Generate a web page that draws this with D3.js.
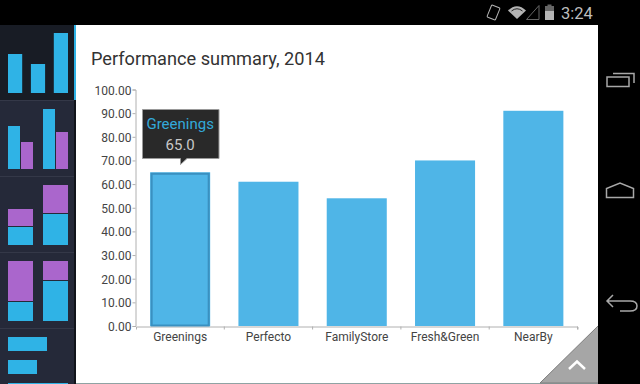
<!DOCTYPE html>
<html>
<head>
<meta charset="utf-8">
<script src="https://cdn.jsdelivr.net/npm/d3@7"></script>
<style>
html, body { margin: 0; padding: 0; background: #000; overflow: hidden; }
svg { display: block; font-family: Roboto, sans-serif; }
</style>
</head>
<body>
<svg id="chart" width="640" height="384"></svg>
<script>
var categories = ["Greenings", "Perfecto", "FamilyStore", "Fresh&Green", "NearBy"];
var values = [65, 61, 54, 70, 91];
var yTicks = [0, 10, 20, 30, 40, 50, 60, 70, 80, 90, 100];
var titleText = "Performance summary, 2014";
var clockText = "3:24";

// sidebar thumbnails, values in thumbnail units
var thumbBars = [39, 29, 60];
var thumbGroupBlue = [43, 60];
var thumbGroupPurple = [27, 37];
var thumbStack1Blue = [18, 31];
var thumbStack1Purple = [17, 28];
var thumbStack2Blue = [19, 40];
var thumbStack2Purple = [40, 19];
var thumbHoriz = [39, 29, 60];

var blue = "#4fb5e7", thumbBlue = "#2fb3e6", purple = "#aa66cc";
var svg = d3.select("#chart");

// panel
svg.append("rect").attr("x", 0).attr("y", 0).attr("width", 640).attr("height", 384).attr("fill", "#000");
svg.append("rect").attr("x", 76).attr("y", 25).attr("width", 522).attr("height", 358).attr("fill", "#fff");
svg.append("rect").attr("x", 76).attr("y", 383).attr("width", 522).attr("height", 1).attr("fill", "#8fa3a3");

// sidebar
svg.append("rect").attr("x", 0).attr("y", 25).attr("width", 75).attr("height", 359).attr("fill", "#252939");
svg.append("rect").attr("x", 0).attr("y", 25).attr("width", 74).attr("height", 75).attr("fill", "#181c25");
svg.append("rect").attr("x", 74).attr("y", 100).attr("width", 2).attr("height", 284).attr("fill", "#11141b");
svg.append("rect").attr("x", 74).attr("y", 25).attr("width", 2).attr("height", 75).attr("fill", thumbBlue);
[100, 176, 252, 328].forEach(function (y) {
    svg.append("rect").attr("x", 0).attr("y", y).attr("width", 74).attr("height", 1).attr("fill", "#343848");
});

// one unit = one pixel in the thumbnails
var thumbH = d3.scaleLinear().domain([0, 100]).range([0, 100]);
var side = svg.append("g");

function thumbRect(x, bottom, w, v, color) {
    side.append("rect").attr("x", x).attr("y", bottom - thumbH(v)).attr("width", w).attr("height", thumbH(v)).attr("fill", color);
}

var x1 = d3.scaleBand().domain(d3.range(3)).range([8, 68]).paddingInner(0.38);
thumbBars.forEach(function (v, i) { thumbRect(x1(i), 93, x1.bandwidth(), v, thumbBlue); });

var x2 = [8, 43];
thumbGroupBlue.forEach(function (v, i) { thumbRect(x2[i], 169, 12, v, thumbBlue); });
thumbGroupPurple.forEach(function (v, i) { thumbRect(x2[i] + 13, 169, 12, v, purple); });

function stackThumb(bottom, blues, purples) {
    blues.forEach(function (v, i) {
        thumbRect(x2[i], bottom, 25, v, thumbBlue);
        thumbRect(x2[i], bottom - v - 1, 25, purples[i], purple);
    });
}
stackThumb(245, thumbStack1Blue, thumbStack1Purple);
stackThumb(321, thumbStack2Blue, thumbStack2Purple);

thumbHoriz.forEach(function (v, i) {
    side.append("rect").attr("x", 8).attr("y", 337 + i * 23).attr("width", thumbH(v)).attr("height", 14).attr("fill", thumbBlue);
});

// main chart
svg.append("text").attr("x", 91).attr("y", 65).attr("font-size", 18.2).attr("fill", "#333").text(titleText);

var x = d3.scaleBand().domain(categories).range([136, 577.5]).paddingInner(0.32).paddingOuter(0.16);
var y = d3.scaleLinear().domain([0, 100]).range([326, 89.5]);

var yAxis = svg.append("g").attr("transform", "translate(135.5,0)")
    .call(d3.axisLeft(y).tickValues(yTicks).tickFormat(d3.format(".2f")).tickSize(3).tickPadding(1));
var xAxis = svg.append("g").attr("transform", "translate(0,326.5)")
    .call(d3.axisBottom(x).tickSize(3).tickPadding(3));

[yAxis, xAxis].forEach(function (a) {
    a.selectAll("path,line").attr("stroke", "#b0b0b0");
    a.selectAll("text").attr("font-family", "Roboto, sans-serif").attr("font-size", 12).attr("fill", "#444");
});
yAxis.selectAll("text").attr("y", 0.7);
// band ticks sit on the band edges, not the centres
var step = x.step();
xAxis.selectAll(".tick line").attr("x1", step / 2).attr("x2", step / 2);

svg.selectAll(".bar").data(values).join("rect").attr("class", "bar")
    .attr("x", function (d, i) { return x(categories[i]); })
    .attr("y", function (d) { return y(d); })
    .attr("width", x.bandwidth())
    .attr("height", function (d) { return y(0) - y(d); })
    .attr("fill", blue);

// selected bar outline
svg.append("rect")
    .attr("x", x(categories[0]) + 1.5).attr("y", y(values[0]) + 1.5)
    .attr("width", x.bandwidth() - 3).attr("height", y(0) - y(values[0]) - 2)
    .attr("fill", "none").attr("stroke", "#3a90c0").attr("stroke-width", 2);

// tooltip
var tx = x(categories[0]) + x.bandwidth() / 2;
svg.append("path")
    .attr("d", "M142.5,109.5H219V158.5H187L180.5,164.5V158.5H142.5Z")
    .attr("fill", "#292929").attr("stroke", "#999").attr("stroke-width", 1);
svg.append("text").attr("x", tx).attr("y", 129).attr("text-anchor", "middle").attr("font-size", 15).attr("fill", "#33a9d9").text(categories[0]);
svg.append("text").attr("x", tx).attr("y", 150).attr("text-anchor", "middle").attr("font-size", 15).attr("fill", "#c8c8c8").text(values[0].toFixed(1));

// corner button
svg.append("path").attr("d", "M598,326V383H540Z").attr("fill", "#a6a6a6");
svg.append("path").attr("d", "M598,326L540,383H598").attr("fill", "none").attr("stroke", "#7d7d7d").attr("stroke-width", 1);
svg.append("path").attr("d", "M569,369L577,361.5L585,369").attr("fill", "none").attr("stroke", "#fff").attr("stroke-width", 2.5);

// status bar
var grey = "#b4b4b4";
svg.append("text").attr("x", 561).attr("y", 18.5).attr("font-size", 16.5).attr("fill", "#bdbdbd").text(clockText);
svg.append("rect").attr("x", 489).attr("y", 6).attr("width", 9).attr("height", 13).attr("rx", 1)
    .attr("transform", "rotate(22 493.5 12.5)").attr("fill", "none").attr("stroke", grey).attr("stroke-width", 1);
svg.append("path").attr("d", "M508,10.5Q517,2 526,10.5L517,19Z").attr("fill", grey);
svg.append("path").attr("d", "M511.5,11Q517,6.5 522.5,11").attr("fill", "none").attr("stroke", "#222").attr("stroke-width", 1);
svg.append("path").attr("d", "M526.5,19.5L539,5.5V19.5Z").attr("fill", "none").attr("stroke", "#666").attr("stroke-width", 1);
svg.append("rect").attr("x", 545).attr("y", 6).attr("width", 9).attr("height", 14).attr("fill", "#666");
svg.append("rect").attr("x", 547.5).attr("y", 4.5).attr("width", 4).attr("height", 2).attr("fill", "#666");
svg.append("rect").attr("x", 545).attr("y", 11).attr("width", 9).attr("height", 9).attr("fill", grey);

// nav buttons
var nav = svg.append("g").attr("fill", "none").attr("stroke", "#a8a8a8").attr("stroke-width", 1.5);
nav.append("rect").attr("x", 607).attr("y", 77).attr("width", 22).attr("height", 9.5);
nav.append("path").attr("d", "M613,73.5H634V83");
nav.append("path").attr("d", "M606.5,197.5V188.5L620,183L633.5,188.5V197.5Z");
nav.append("path").attr("d", "M613,295L607,301L613,307M607,301H630Q637,301 637,306Q637,311 630,311H620");
</script>
</body>
</html>
